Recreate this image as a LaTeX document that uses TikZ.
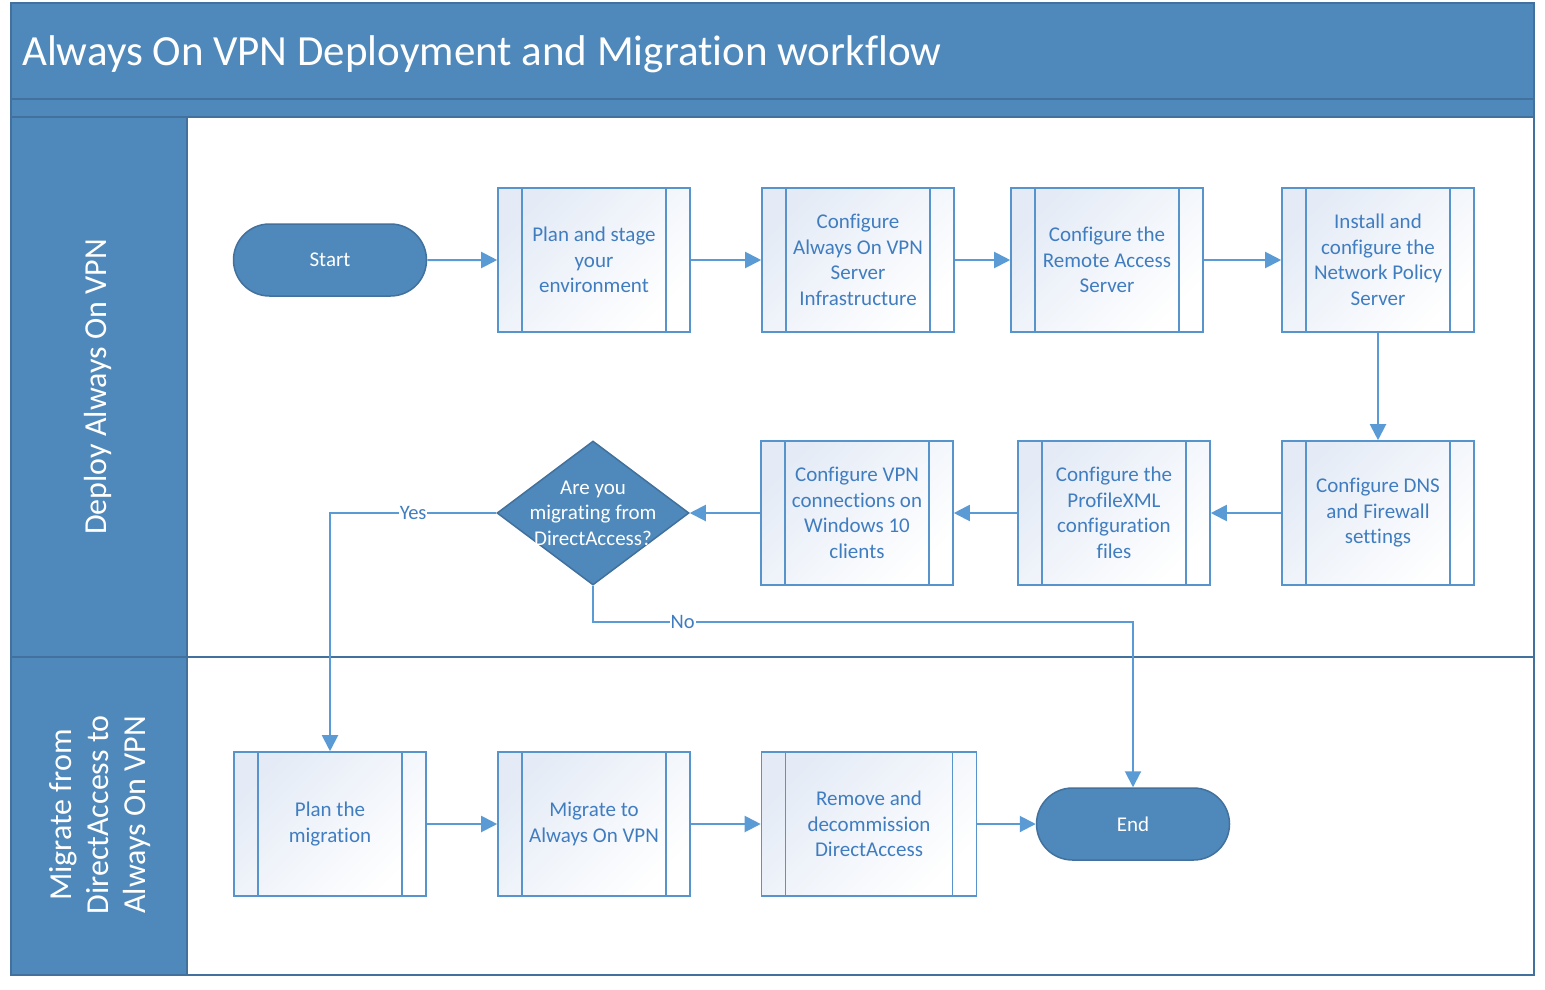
\documentclass[tikz,border=0pt]{standalone}
\usepackage{fontspec}
\setmainfont{Carlito}[Ligatures=NoCommon]
\usetikzlibrary{shapes.geometric,shapes.misc,arrows.meta}
\definecolor{hdr}{RGB}{79,136,186}
\definecolor{hdrln}{RGB}{65,113,156}
\definecolor{conn}{RGB}{91,155,213}
\definecolor{boxln}{RGB}{88,148,204}
\definecolor{boxlt}{RGB}{228,235,246}
\definecolor{boxtx}{RGB}{64,125,192}
\begin{document}
\begin{tikzpicture}[x=1pt,y=-1pt,
  proc/.style={rectangle, draw=boxln, line width=1.6pt, minimum width=192pt, minimum height=144pt,
    inner sep=0pt, top color=boxlt, bottom color=white, shading angle=45,
    text=boxtx, font=\fontsize{21}{25.5}\selectfont, align=center,
    path picture={
      \draw[boxln, line width=1.6pt] ([xshift=24pt]path picture bounding box.north west) -- ([xshift=24pt]path picture bounding box.south west);
      \draw[boxln, line width=1.6pt] ([xshift=-24pt]path picture bounding box.north east) -- ([xshift=-24pt]path picture bounding box.south east);
    }},
  term/.style={rounded rectangle, draw=hdrln, line width=1.5pt, fill=hdr, minimum width=193pt, minimum height=72pt,
    inner sep=0pt, text=white, font=\fontsize{21}{25}\selectfont},
  dia/.style={diamond, draw=hdrln, line width=1.5pt, fill=hdr, minimum width=192pt, minimum height=144pt, inner sep=0pt},
  diatext/.style={text=white, font=\fontsize{21}{25.5}\selectfont, align=center},
  arr/.style={draw=conn, line width=2pt, -{Triangle[length=16pt,width=16pt]}},
  lbl/.style={fill=white, text=boxtx, font=\fontsize{20.5}{22}\selectfont, inner sep=1pt},
  lanetext/.style={rotate=90, text=white, font=\fontsize{32}{37}\selectfont, align=center}
]
\useasboundingbox (0,0) rectangle (1545,989);
% frame and lanes
\fill[hdr] (11,3) rectangle (1534,975);
\fill[white] (187,117) rectangle (1534,975);
\draw[hdrln, line width=2pt] (11,3) rectangle (1534,975);
\draw[hdrln, line width=2pt] (11,99) -- (1534,99);
\draw[hdrln, line width=2pt] (11,117) -- (1534,117);
\draw[hdrln, line width=2pt] (11,657) -- (1534,657);
\draw[hdrln, line width=2pt] (187,117) -- (187,975);
\node[anchor=base west, text=white, font=\fontsize{43}{50}\selectfont, inner sep=0pt] (title) at (22,65) {Always On VPN Deployment and Migration workflow};
\node[lanetext] (lane1) at (98,387) {Deploy Always On VPN};
\node[lanetext] (lane2) at (100,815) {Migrate from\\DirectAccess to\\Always On VPN};
% nodes
\node[term] (start) at (330,260) {Start};
\node[proc] (p1) at (594,260) {Plan and stage\\your\\environment};
\node[proc] (p2) at (858,260) {Configure\\Always On VPN\\Server\\Infrastructure};
\node[proc] (p3) at (1107,260) {Configure the\\Remote Access\\Server};
\node[proc] (p4) at (1378,260) {Install and\\configure the\\Network Policy\\Server};
\node[proc] (p5) at (1378,513) {Configure DNS\\and Firewall\\settings};
\node[proc] (p6) at (1114,513) {Configure the\\ProfileXML\\configuration\\files};
\node[proc] (p7) at (857,513) {Configure VPN\\connections on\\Windows 10\\clients};
\node[dia] (dec) at (593,513) {};
\node[diatext] (dectext) at (dec) {Are you\\migrating from\\DirectAccess?};
\node[proc] (m1) at (330,824) {Plan the\\migration};
\node[proc] (m2) at (594,824) {Migrate to\\Always On VPN};
\node[proc, minimum width=215pt] (m3) at (869,824) {Remove and\\decommission\\DirectAccess};
\node[term] (end) at (1133,824) {End};
% connectors
\draw[arr] (start) -- (p1);
\draw[arr] (p1) -- (p2);
\draw[arr] (p2) -- (p3);
\draw[arr] (p3) -- (p4);
\draw[arr] (p4) -- (p5);
\draw[arr] (p5) -- (p6);
\draw[arr] (p6) -- (p7);
\draw[arr] (p7) -- (dec.east);
\draw[arr] (dec.west) -| node[lbl, pos=0.25] {Yes} (m1.north);
\draw[arr] (dec.south) -- ++(0,36) -| node[lbl, pos=0.083] {No} (end.north);
\draw[arr] (m1) -- (m2);
\draw[arr] (m2) -- (m3);
\draw[arr] (m3) -- (end);
\end{tikzpicture}
\end{document}
